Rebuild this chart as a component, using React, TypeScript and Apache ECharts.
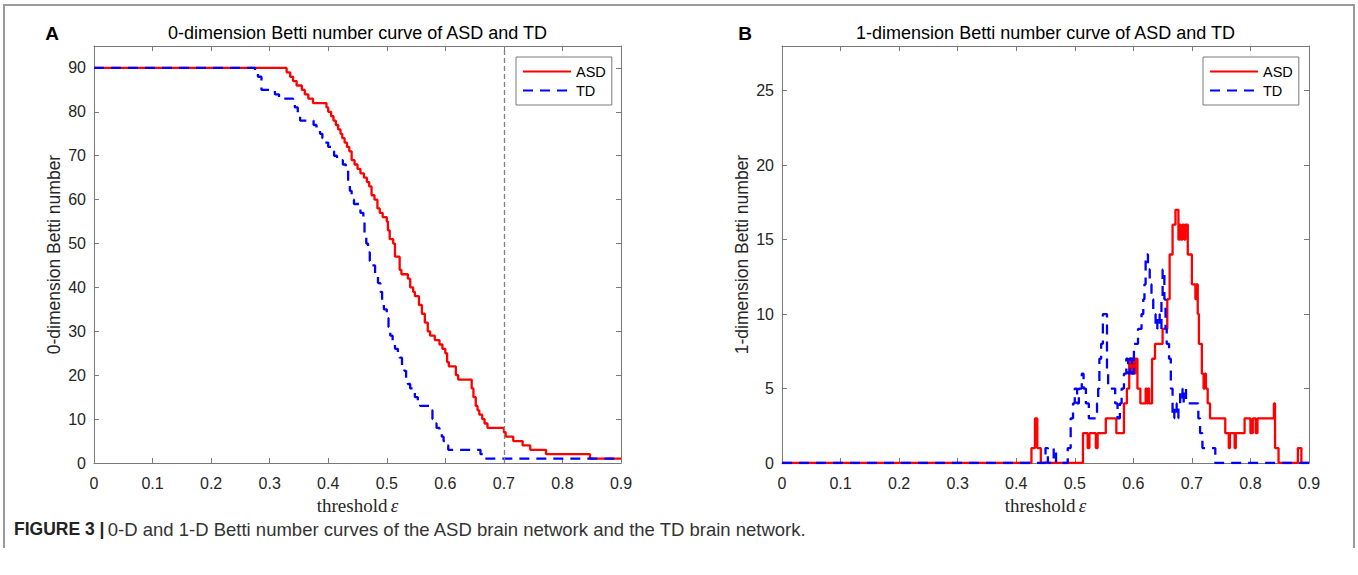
import React, { useEffect, useRef } from 'react';
import * as echarts from 'echarts';

// ---- axis ranges / ticks ----
const X_MIN = 0;
const X_MAX = 0.9;
const X_STEP = 0.1;
const Y0_MIN = 0;
const Y0_MAX = 95;
const Y0_STEP = 10;
const Y1_MIN = 0;
const Y1_MAX = 28;
const Y1_STEP = 5;
const THRESHOLD_LINE = 0.7;

const SERIES_NAMES = ['ASD', 'TD'];
const TITLES = ['0-dimension Betti number curve of ASD and TD', '1-dimension Betti number curve of ASD and TD'];
const Y_NAMES = ['0-dimension Betti number', '1-dimension Betti number'];
const PANEL_LETTERS = ['A', 'B'];
const CAPTION_BOLD = 'FIGURE 3 |';
const CAPTION_TEXT = '0-D and 1-D Betti number curves of the ASD brain network and the TD brain network.';

// ---- 0-dimension Betti number (step breakpoints: [threshold, value]) ----
const asd0: [number, number][] = [
  [0, 90], [0.329, 89], [0.335, 88], [0.340, 87], [0.346, 86], [0.355, 85], [0.360, 84],
  [0.366, 83], [0.374, 82], [0.397, 81], [0.400, 80], [0.405, 79], [0.409, 78], [0.413, 77],
  [0.417, 76], [0.421, 75], [0.424, 74], [0.428, 73], [0.432, 72], [0.436, 71], [0.440, 69],
  [0.445, 68], [0.450, 67], [0.455, 66], [0.461, 65], [0.466, 64], [0.470, 63], [0.474, 61],
  [0.479, 60], [0.484, 58], [0.488, 57], [0.493, 56], [0.500, 55], [0.502, 53], [0.505, 51],
  [0.511, 50], [0.514, 47], [0.522, 44], [0.525, 43], [0.536, 42], [0.540, 40], [0.545, 39],
  [0.548, 38], [0.555, 36], [0.560, 34], [0.565, 32], [0.570, 30], [0.574, 29], [0.582, 28],
  [0.590, 27], [0.595, 26], [0.600, 25], [0.603, 23], [0.606, 22], [0.618, 20], [0.622, 19],
  [0.645, 17], [0.648, 15], [0.652, 13], [0.655, 12], [0.658, 11], [0.663, 10], [0.667, 9],
  [0.672, 8], [0.700, 7], [0.703, 6], [0.716, 5], [0.732, 4], [0.745, 3], [0.772, 2],
  [0.847, 1], [0.9, 1],
];

const td0: [number, number][] = [
  [0, 90], [0.275, 89], [0.280, 88], [0.286, 85], [0.309, 84], [0.316, 83], [0.340, 82],
  [0.343, 81], [0.348, 79], [0.352, 78], [0.375, 77], [0.380, 76], [0.386, 75], [0.390, 74],
  [0.395, 73], [0.400, 72], [0.405, 71], [0.410, 70], [0.415, 69], [0.425, 68], [0.430, 67],
  [0.434, 64], [0.437, 62], [0.440, 60], [0.444, 59], [0.455, 57], [0.460, 55], [0.462, 52],
  [0.465, 50], [0.468, 48], [0.471, 46], [0.475, 45], [0.480, 43], [0.485, 41], [0.489, 39],
  [0.492, 37], [0.495, 35], [0.500, 33], [0.503, 31], [0.506, 29], [0.510, 27], [0.514, 26],
  [0.519, 25], [0.522, 24], [0.526, 22], [0.530, 21], [0.533, 19], [0.536, 18], [0.540, 17],
  [0.545, 16], [0.548, 15], [0.553, 14], [0.557, 13], [0.575, 12], [0.578, 10], [0.582, 9],
  [0.585, 8], [0.590, 7], [0.594, 6], [0.597, 5], [0.601, 4], [0.605, 3], [0.660, 2],
  [0.666, 1], [0.9, 1],
];

// ---- 1-dimension Betti number ----
const asd1: [number, number][] = [
  [0, 0], [0.426, 1], [0.432, 3], [0.436, 1], [0.442, 0], [0.514, 2], [0.522, 1], [0.525, 2],
  [0.536, 1], [0.539, 2], [0.553, 3], [0.571, 2], [0.584, 4], [0.589, 5], [0.593, 7],
  [0.596, 6], [0.598, 7], [0.601, 6], [0.603, 7], [0.607, 5], [0.612, 4], [0.621, 5],
  [0.623, 4], [0.625, 5], [0.627, 4], [0.632, 7], [0.637, 8], [0.650, 9], [0.658, 11],
  [0.662, 14], [0.667, 16], [0.672, 17], [0.677, 15], [0.679, 16], [0.681, 15], [0.684, 16],
  [0.687, 15], [0.689, 16], [0.693, 14], [0.700, 12], [0.706, 11], [0.708, 12], [0.710, 10],
  [0.712, 8], [0.717, 6], [0.720, 5], [0.722, 6], [0.724, 5], [0.727, 4], [0.731, 3],
  [0.757, 2], [0.763, 1], [0.765, 2], [0.773, 1], [0.775, 2], [0.790, 3], [0.800, 2],
  [0.804, 3], [0.809, 2], [0.812, 3], [0.840, 4], [0.842, 1], [0.848, 0], [0.881, 1],
  [0.887, 0], [0.9, 0],
];

const td1: [number, number][] = [
  [0, 0], [0.450, 1], [0.454, 0], [0.464, 1], [0.468, 0], [0.488, 1], [0.493, 3], [0.497, 4],
  [0.500, 5], [0.504, 4], [0.507, 5], [0.512, 6], [0.515, 5], [0.519, 4], [0.524, 3],
  [0.538, 4], [0.540, 5], [0.542, 7], [0.545, 8], [0.548, 10], [0.555, 6], [0.557, 5],
  [0.569, 4], [0.573, 3], [0.577, 4], [0.580, 5], [0.584, 6], [0.588, 7], [0.591, 6],
  [0.594, 7], [0.598, 6], [0.601, 8], [0.608, 9], [0.614, 10], [0.617, 11], [0.619, 12],
  [0.621, 14], [0.625, 13], [0.628, 12], [0.631, 11], [0.634, 10], [0.638, 9], [0.641, 10],
  [0.645, 9], [0.648, 11], [0.650, 13], [0.653, 11], [0.655, 9], [0.657, 8], [0.661, 7],
  [0.664, 5], [0.667, 3], [0.670, 4], [0.674, 3], [0.677, 4], [0.680, 5], [0.684, 4],
  [0.686, 5], [0.690, 4], [0.711, 3], [0.714, 2], [0.718, 1], [0.740, 0], [0.9, 0],
];

const SANS = '"Liberation Sans", Arial, Helvetica, sans-serif';
const SERIF = '"Liberation Serif", "DejaVu Serif", serif';
const AXIS_COLOR = '#7a7a7a';
const TEXT_COLOR = '#262626';
const RED = '#ff0000';
const BLUE = '#0000ff';

const GRID_LEFTS = [94, 782];
const GRID_TOP = 46;
const GRID_W = 527;
const GRID_H = 417;

export default function App() {
  const ref = useRef<HTMLDivElement>(null);

  useEffect(() => {
    document.body.style.margin = '0';
    const chart = echarts.init(ref.current!, null, { renderer: 'svg' });

    const axisLine = { show: true, onZero: false, lineStyle: { color: AXIS_COLOR, width: 1 } };
    const tick = { show: true, inside: true, length: 5, lineStyle: { color: AXIS_COLOR, width: 1 } };
    const fmtX = (v: number) => String(Math.round(v * 10) / 10);

    const xAxes: any[] = [];
    const yAxes: any[] = [];
    [0, 1].forEach((gi) => {
      xAxes.push({
        type: 'value', gridIndex: gi, position: 'bottom', min: X_MIN, max: X_MAX, interval: X_STEP,
        axisLine, axisTick: tick, splitLine: { show: false },
        axisLabel: { color: TEXT_COLOR, fontSize: 16, fontFamily: SANS, margin: 12, formatter: fmtX },
        name: '{a|threshold} {b|ε}', nameLocation: 'middle', nameGap: 26,
        nameTextStyle: {
          rich: {
            a: { fontFamily: SERIF, fontSize: 19, color: TEXT_COLOR },
            b: { fontFamily: SERIF, fontSize: 19, fontStyle: 'italic', color: TEXT_COLOR },
          },
        },
      });
      xAxes.push({
        type: 'value', gridIndex: gi, position: 'top', min: X_MIN, max: X_MAX, interval: X_STEP,
        axisLine, axisTick: tick, splitLine: { show: false }, axisLabel: { show: false },
      });
      const ymin = gi === 0 ? Y0_MIN : Y1_MIN;
      const ymax = gi === 0 ? Y0_MAX : Y1_MAX;
      const ystep = gi === 0 ? Y0_STEP : Y1_STEP;
      yAxes.push({
        type: 'value', gridIndex: gi, position: 'left', min: ymin, max: ymax, interval: ystep,
        axisLine, axisTick: tick, splitLine: { show: false },
        axisLabel: { color: TEXT_COLOR, fontSize: 16, fontFamily: SANS, margin: 8, showMaxLabel: false },
        name: Y_NAMES[gi], nameLocation: 'middle', nameGap: 31,
        nameTextStyle: { fontFamily: SANS, fontSize: 17.5, color: TEXT_COLOR },
      });
      yAxes.push({
        type: 'value', gridIndex: gi, position: 'right', min: ymin, max: ymax, interval: ystep,
        axisLine, axisTick: tick, splitLine: { show: false }, axisLabel: { show: false },
      });
    });

    const mkSeries = (name: string, data: [number, number][], gi: number, dashed: boolean, extra: any = {}) => ({
      name, type: 'line', step: 'end', data, symbol: 'none', showSymbol: false,
      xAxisIndex: gi * 2, yAxisIndex: gi * 2,
      lineStyle: { color: dashed ? BLUE : RED, width: 2.3, type: dashed ? [10, 7] : 'solid' },
      itemStyle: { color: dashed ? BLUE : RED },
      z: dashed ? 4 : 3,
      ...extra,
    });

    const legendBase = {
      orient: 'vertical', top: 57, padding: [7, 6, 7, 6], itemGap: 4, itemWidth: 48, itemHeight: 14,
      borderColor: AXIS_COLOR, borderWidth: 1, backgroundColor: '#ffffff',
      itemStyle: { opacity: 0, borderWidth: 0 },
      textStyle: { fontFamily: SANS, fontSize: 14.5, color: '#000' },
      data: SERIES_NAMES,
    };

    const option: any = {
      animation: false,
      backgroundColor: '#ffffff',
      grid: GRID_LEFTS.map((l) => ({ left: l, top: GRID_TOP, width: GRID_W, height: GRID_H, containLabel: false })),
      xAxis: xAxes,
      yAxis: yAxes,
      legend: [
        { ...legendBase, left: 516 },
        { ...legendBase, left: 1203 },
      ],
      series: [
        mkSeries(SERIES_NAMES[0], asd0, 0, false, {
          markLine: {
            silent: true, symbol: 'none', label: { show: false },
            lineStyle: { color: '#808080', type: [5, 3], width: 1.3 },
            data: [{ xAxis: THRESHOLD_LINE }],
          },
        }),
        mkSeries(SERIES_NAMES[1], td0, 0, true),
        mkSeries(SERIES_NAMES[0], asd1, 1, false),
        mkSeries(SERIES_NAMES[1], td1, 1, true),
      ],
      graphic: [
        {
          type: 'polyline', silent: true, z: -1,
          shape: { points: [[4, 548], [4, 5], [1354, 5], [1354, 548]] },
          style: { fill: 'none', stroke: '#9a9a9a', lineWidth: 2 },
        },
        ...[0, 1].map((gi) => ({
          type: 'text', x: GRID_LEFTS[gi] + GRID_W / 2, y: 33,
          style: { text: TITLES[gi], fontFamily: SANS, fontSize: 18, fill: '#000', align: 'center', verticalAlign: 'middle' },
        })),
        ...[0, 1].map((gi) => ({
          type: 'text', x: gi === 0 ? 52 : 745, y: 33,
          style: { text: PANEL_LETTERS[gi], fontFamily: SANS, fontSize: 19, fontWeight: 'bold', fill: '#000', align: 'center', verticalAlign: 'middle' },
        })),
        {
          type: 'text', x: 14, y: 529,
          style: {
            text: `{b|${CAPTION_BOLD}} {n|${CAPTION_TEXT}}`,
            verticalAlign: 'middle', align: 'left',
            rich: {
              b: { fontFamily: SANS, fontSize: 17.5, fontWeight: 'bold', fill: '#222' },
              n: { fontFamily: SANS, fontSize: 18.5, fill: '#333' },
            },
          },
        },
      ],
    };

    chart.setOption(option);
    return () => chart.dispose();
  }, []);

  return <div ref={ref} style={{ width: 1358, height: 575 }} />;
}
